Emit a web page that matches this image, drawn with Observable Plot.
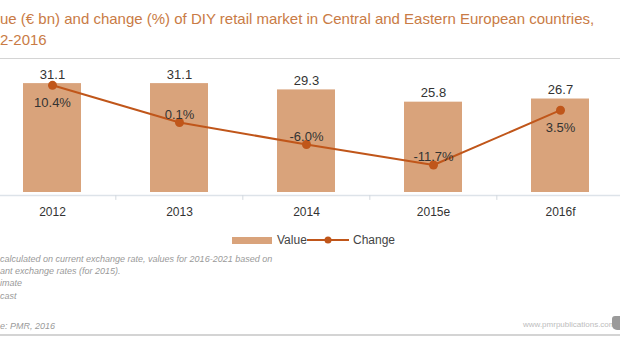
<!DOCTYPE html>
<html><head><meta charset="utf-8">
<script src="https://cdn.jsdelivr.net/npm/d3@7"></script>
<script src="https://cdn.jsdelivr.net/npm/@observablehq/plot@0.6"></script>
<style>
body{margin:0;background:#fff;font-family:"Liberation Sans",Arial,sans-serif;}
#wrap{position:relative;width:620px;height:350px;overflow:hidden;background:#fff;}
.title{position:absolute;left:0;font-size:15px;color:#c97b45;white-space:nowrap;line-height:20px;}
.hr{position:absolute;left:0;width:620px;background:#d4d4d4;}
#chart{position:absolute;left:0;top:60px;}
.lg{position:absolute;font-size:12px;color:#444;line-height:14px;white-space:nowrap;}
.note{position:absolute;left:0;font-size:9px;font-style:italic;color:#9a9a9a;white-space:nowrap;line-height:12px;}
.www{position:absolute;font-size:8px;color:#bdbdbd;white-space:nowrap;line-height:10px;}
</style></head><body>
<div id="wrap">
  <div class="title" style="top:9px">ue (€ bn) and change (%) of DIY retail market in Central and Eastern European countries,</div>
  <div class="title" style="top:30px">2-2016</div>
  <div class="hr" style="top:58px;height:1px"></div>
  <div id="chart"></div>
  <div style="position:absolute;left:232px;top:237px;width:40px;height:6.5px;background:#d9a37b"></div>
  <div class="lg" style="left:277px;top:233px">Value</div>
  <svg style="position:absolute;left:305px;top:234px" width="46" height="12"><line x1="2" y1="6" x2="44" y2="6" stroke="#c0561a" stroke-width="2"/><circle cx="23" cy="6" r="3.5" fill="#c0561a"/></svg>
  <div class="lg" style="left:353px;top:233px">Change</div>
  <div class="note" style="top:253px">calculated on current exchange rate, values for 2016-2021 based on</div>
  <div class="note" style="top:265px">ant exchange rates (for 2015).</div>
  <div class="note" style="top:277px">imate</div>
  <div class="note" style="top:290px">cast</div>
  <div class="note" style="top:320px">e: PMR, 2016</div>
  <div class="www" style="left:523px;top:320px">www.pmrpublications.com</div>
  <div style="position:absolute;left:612px;top:316px;width:10px;height:14px;background:#9a9a9a;border-radius:3px 0 0 5px"></div>
  <div class="hr" style="top:334px;height:1.5px"></div>
</div>
<script>
const categories = ["2012", "2013", "2014", "2015e", "2016f"];
const values = [31.1, 31.1, 29.3, 25.8, 26.7];
const changes = [10.4, 0.1, -6.0, -11.7, 3.5];

const data = categories.map((c, i) => ({year: c, value: values[i], change: changes[i]}));
// secondary (change %) axis expressed in value units
const ch = d3.scaleLinear().domain([0, 10]).range([19.9, 30.2]);
const xRange = [-12.6, 624];
const step = (xRange[1] - xRange[0]) / categories.length;
const barColor = "#d9a37b", lineColor = "#c0561a";

const chart = Plot.plot({
  width: 620, height: 165,
  marginTop: 0, marginBottom: 33, marginLeft: 0, marginRight: 0,
  x: {domain: categories, range: xRange, paddingInner: 0.544, paddingOuter: 0.272, align: 0.5, axis: null},
  y: {domain: [0, 37.7], axis: null},
  style: {fontFamily: "'Liberation Sans', Arial, sans-serif", fontSize: "13px", color: "#333", background: "transparent", overflow: "visible"},
  marks: [
    Plot.barY(data, {x: "year", y: "value", fill: barColor}),
    Plot.ruleY([0], {stroke: "#dde3e9", strokeWidth: 1.5, dy: 3}),
    Plot.ruleX(categories.slice(1), {x: d => d, y1: 0, y2: -1.4, dx: -step / 2, dy: 3, stroke: "#d3d9df"}),
    Plot.text(data, {x: "year", y: "value", text: d => d.value.toFixed(1), dy: -9, fontSize: 13, fill: "#333"}),
    Plot.line(data, {x: "year", y: d => ch(d.change), stroke: lineColor, strokeWidth: 2}),
    Plot.dot(data, {x: "year", y: d => ch(d.change), r: 4.5, fill: lineColor, stroke: "none"}),
    Plot.text(data.filter(d => d.change > 1), {x: "year", y: d => ch(d.change), text: d => d.change.toFixed(1) + "%", dy: 18, fontSize: 13, fill: "#333"}),
    Plot.text(data.filter(d => d.change <= 1), {x: "year", y: d => ch(d.change), text: d => d.change.toFixed(1) + "%", dy: -8, fontSize: 13, fill: "#333"}),
    Plot.text(data, {x: "year", y: 0, text: "year", dy: 20, fontSize: 12, fill: "#333"})
  ]
});
document.getElementById("chart").appendChild(chart);
</script>
</body></html>
